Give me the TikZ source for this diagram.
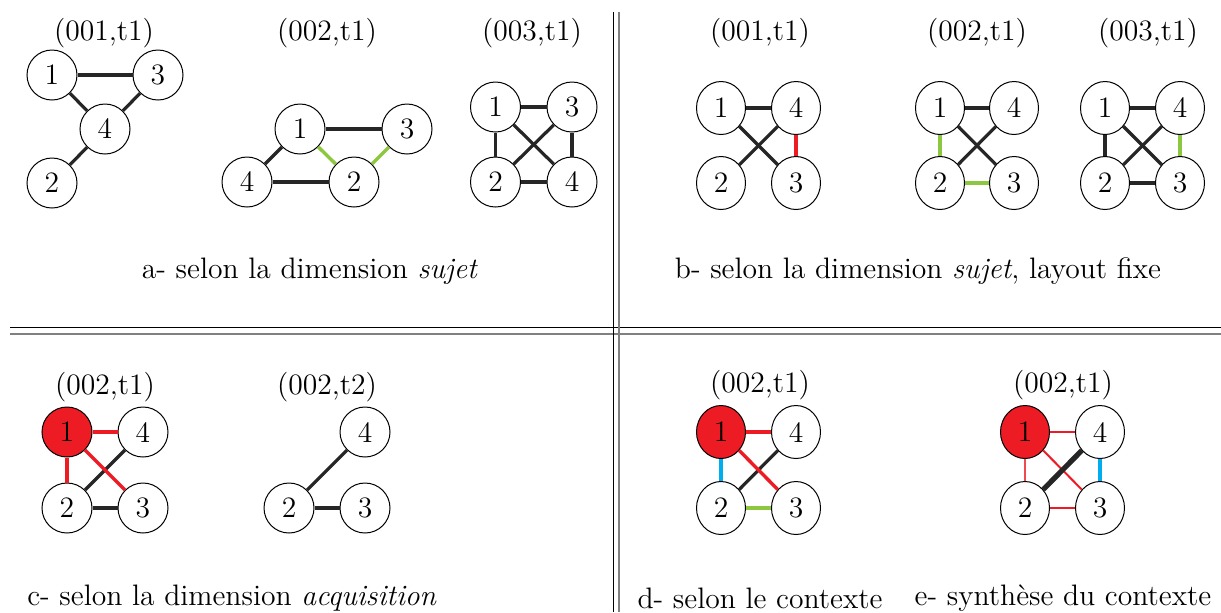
\documentclass[tikz,border=0pt]{standalone}
\usetikzlibrary{shapes.geometric}
\definecolor{myred}{HTML}{ED1C24}
\definecolor{mygreen}{HTML}{8DC63F}
\definecolor{myblue}{HTML}{00AEEF}
\definecolor{mygray}{HTML}{808080}
\begin{document}
\begin{tikzpicture}[x=0.5pt,y=-0.5pt,font=\fontsize{14.8}{18}\selectfont,
  nd/.style={circle,draw,line width=0.5pt,minimum size=25pt,inner sep=0pt,fill=white},
  ne/.style={ellipse,draw,line width=0.5pt,minimum width=24.5pt,minimum height=26.5pt,inner sep=0pt,fill=white},
  hot/.style={fill=myred},
  be/.style={line width=1.6pt,black!85},
  re/.style={line width=1.7pt,myred},
  ge/.style={line width=1.7pt,mygreen},
  ce/.style={line width=1.7pt,myblue},
  te/.style={line width=1pt,myred},
  tte/.style={line width=0.6pt,myred!80},
  ke/.style={line width=2.6pt,black!85},
  lbl/.style={inner sep=0pt},
  blk/.style={line width=0.6pt,black},
  gry/.style={line width=1pt,mygray}]
\useasboundingbox (0,0) rectangle (1221,612);
% separators
\draw[blk] (10,327.5) -- (1221,327.5);
\draw[gry] (10,334) -- (1221,334);
\draw[blk] (613.5,12) -- (613.5,612);
\draw[gry] (618.5,12) -- (618.5,612);

% ---------- panel a ----------
\node[lbl] (la1) at (104,33) {(001,t1)};
\node[nd] (a11) at (52,75) {1};
\node[nd] (a13) at (158,75) {3};
\node[nd] (a14) at (105,129) {4};
\node[nd] (a12) at (52,183) {2};
\draw[be] (a11) -- (a13);
\draw[be] (a11) -- (a14);
\draw[be] (a13) -- (a14);
\draw[be] (a14) -- (a12);

\node[lbl] (la2) at (327,33) {(002,t1)};
\node[nd] (a21) at (300,129) {1};
\node[nd] (a23) at (407,129) {3};
\node[nd] (a24) at (247,182) {4};
\node[nd] (a22) at (354,182) {2};
\draw[be] (a21) -- (a23);
\draw[be] (a21) -- (a24);
\draw[be] (a24) -- (a22);
\draw[ge] (a21) -- (a22);
\draw[ge] (a22) -- (a23);

\node[lbl] (la3) at (532,33) {(003,t1)};
\node[nd] (a31) at (495.5,107) {1};
\node[nd] (a33) at (572,107) {3};
\node[nd] (a32) at (495.5,182) {2};
\node[nd] (a34) at (572,182) {4};
\draw[be] (a31) -- (a33);
\draw[be] (a31) -- (a32);
\draw[be] (a33) -- (a34);
\draw[be] (a32) -- (a34);
\draw[be] (a31) -- (a34);
\draw[be] (a32) -- (a33);

\node[lbl] (ca) at (310,271) {a- selon la dimension \emph{sujet}};

% ---------- panel b ----------
\node[lbl] (lb1) at (760,33) {(001,t1)};
\node[ne] (b11) at (721,108) {1};
\node[ne] (b14) at (796,108) {4};
\node[ne] (b12) at (721,183) {2};
\node[ne] (b13) at (796,183) {3};
\draw[be] (b11) -- (b14);
\draw[be] (b11) -- (b13);
\draw[be] (b14) -- (b12);
\draw[re] (b14) -- (b13);

\node[lbl] (lb2) at (977,33) {(002,t1)};
\node[ne] (b21) at (940,108) {1};
\node[ne] (b24) at (1014,108) {4};
\node[ne] (b22) at (940,183) {2};
\node[ne] (b23) at (1014,183) {3};
\draw[be] (b21) -- (b24);
\draw[be] (b21) -- (b23);
\draw[be] (b24) -- (b22);
\draw[ge] (b21) -- (b22);
\draw[ge] (b22) -- (b23);

\node[lbl] (lb3) at (1148,33) {(003,t1)};
\node[ne] (b31) at (1105,108) {1};
\node[ne] (b34) at (1180,108) {4};
\node[ne] (b32) at (1105,183) {2};
\node[ne] (b33) at (1180,183) {3};
\draw[be] (b31) -- (b34);
\draw[be] (b31) -- (b33);
\draw[be] (b34) -- (b32);
\draw[be] (b31) -- (b32);
\draw[be] (b32) -- (b33);
\draw[ge] (b34) -- (b33);

\node[lbl] (cb) at (918,271) {b- selon la dimension \emph{sujet}, layout fixe};

% ---------- panel c ----------
\node[lbl] (lc1) at (105,387) {(002,t1)};
\node[nd,hot] (c11) at (67,432) {1};
\node[nd] (c14) at (143,432) {4};
\node[nd] (c12) at (67,508) {2};
\node[nd] (c13) at (143,508) {3};
\draw[be] (c12) -- (c14);
\draw[be] (c12) -- (c13);
\draw[re] (c11) -- (c14);
\draw[re] (c11) -- (c12);
\draw[re] (c11) -- (c13);

\node[lbl] (lc2) at (327,387) {(002,t2)};
\node[nd] (c24) at (365,432) {4};
\node[nd] (c22) at (289,508) {2};
\node[nd] (c23) at (365,508) {3};
\draw[be] (c22) -- (c24);
\draw[be] (c22) -- (c23);

\node[lbl] (cc) at (232,598) {c- selon la dimension \emph{acquisition}};

% ---------- panel d ----------
\node[lbl] (ld) at (760,385) {(002,t1)};
\node[ne,hot] (d1) at (721,432) {1};
\node[ne] (d4) at (796,432) {4};
\node[ne] (d2) at (721,508) {2};
\node[ne] (d3) at (796,508) {3};
\draw[be] (d2) -- (d4);
\draw[re] (d1) -- (d4);
\draw[re] (d1) -- (d3);
\draw[ce] (d1) -- (d2);
\draw[ge] (d2) -- (d3);

\node[lbl] (cd) at (760,598) {d- selon le contexte};

% ---------- panel e ----------
\node[lbl] (le) at (1063,385) {(002,t1)};
\node[ne,hot] (e1) at (1025,432) {1};
\node[ne] (e4) at (1100,432) {4};
\node[ne] (e2) at (1025,508) {2};
\node[ne] (e3) at (1100,508) {3};
\draw[te] (e1) -- (e4);
\draw[tte] (e1) -- (e2);
\draw[te] (e1) -- (e3);
\draw[te] (e2) -- (e3);
\draw[ke] (e2) -- (e4);
\draw[ce] (e4) -- (e3);

\node[lbl] (ce) at (1063,598) {e- synthèse du contexte};
\end{tikzpicture}
\end{document}
